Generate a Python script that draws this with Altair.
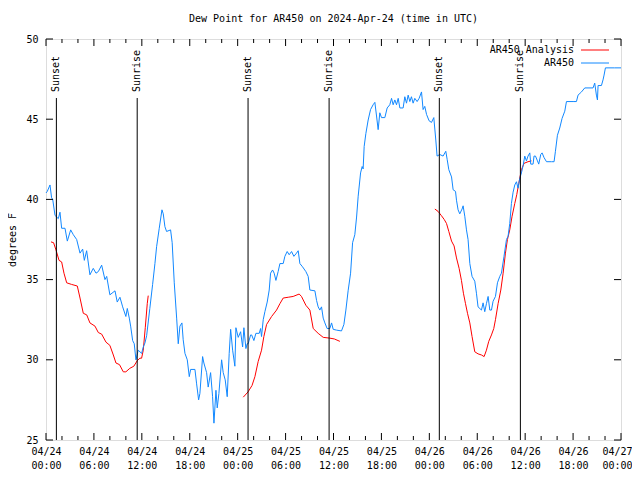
import altair as alt
import pandas as pd

FONT = "DejaVu Sans Mono"
RED = "#ff0000"
BLUE = "#1188ff"

# AR450 observed dew point (hours since 2024-04-24 00:00 UTC, deg F)
obs_t = [0.0, 0.16, 0.5, 0.7, 0.84, 1.13, 1.54, 1.75, 1.96, 2.38, 2.67, 3.09, 3.42, 3.84, 4.26, 4.59, 4.8, 5.09,
         5.5, 5.92, 6.26, 6.55, 6.97, 7.38, 7.6, 8.0, 8.64, 8.92, 9.26, 9.6, 10.0, 10.18, 10.43, 10.6, 10.85,
         11.05, 11.26, 11.55, 11.97, 12.18, 12.39, 12.6, 13.0, 13.35, 13.64, 13.85, 14.18, 14.52, 14.68, 14.89,
         15.1, 15.6, 15.8, 16.06, 16.36, 16.56, 16.77, 17.02, 17.18, 17.4, 17.69, 17.94, 18.11, 18.65, 18.86,
         19.11, 19.27, 19.61, 19.77, 20.11, 20.31, 20.61, 20.86, 21.03, 21.28, 21.44, 21.65, 21.99, 22.19, 22.44,
         22.69, 22.94, 23.12, 23.37, 23.65, 23.78, 24.07, 24.37, 24.62, 24.78, 25.03, 25.19, 25.32, 25.62, 25.75,
         26.03, 26.28, 26.7, 26.87, 26.99, 27.2, 27.41, 27.7, 27.95, 28.12, 28.37, 28.57, 28.79, 29.07, 29.29,
         29.7, 29.91, 30.2, 30.45, 30.75, 31.04, 31.37, 31.58, 31.79, 32.12, 32.54, 32.83, 33.04, 33.67, 33.88,
         34.08, 34.29, 34.5, 34.71, 34.92, 35.2, 35.54, 35.76, 35.96, 36.38, 37.0, 37.3, 37.55, 37.83, 38.14,
         38.39, 38.67, 38.89, 39.09, 39.39, 39.59, 39.71, 39.84, 40.05, 40.34, 40.64, 40.96, 41.18, 41.39, 41.59,
         41.8, 42.01, 42.43, 42.72, 43.05, 43.27, 43.47, 43.68, 43.89, 44.1, 44.31, 44.72, 44.93, 45.14, 45.35,
         45.56, 45.76, 45.97, 46.18, 46.47, 46.72, 47.02, 47.22, 47.43, 47.65, 47.97, 48.27, 48.56, 48.81, 48.97,
         49.31, 49.72, 50.06, 50.23, 50.44, 50.78, 50.98, 51.28, 51.4, 51.6, 51.81, 52.1, 52.23, 52.44, 52.65,
         52.85, 53.07, 53.35, 53.69, 53.9, 54.1, 54.53, 54.73, 54.94, 55.15, 55.36, 55.57, 55.78, 55.98, 56.28,
         56.53, 56.82, 57.03, 57.35, 57.66, 57.86, 58.07, 58.28, 58.49, 58.7, 58.91, 59.11, 59.32, 59.53, 59.74,
         59.95, 60.16, 60.36, 60.58, 60.7, 60.99, 61.11, 61.29, 61.54, 61.7, 61.95, 62.12, 62.37, 62.67, 63.29,
         63.62, 63.79, 64.04, 64.33, 64.62, 64.96, 65.17, 66.0, 66.42, 66.62, 67.05, 67.46, 68.5, 68.71, 68.92,
         69.05, 69.13, 69.55, 69.75, 69.88, 70.05, 71.2, 72.0]
obs_v = [40.4, 40.5, 40.9, 40.1, 40.0, 39.0, 38.8, 39.2, 38.2, 38.2, 37.4, 38.1, 37.8, 37.5, 36.65, 36.9, 36.2, 36.8,
         35.3, 35.7, 35.4, 35.5, 35.9, 35.0, 35.2, 34.05, 34.3, 33.6, 33.9, 33.3, 32.7, 33.2, 32.6, 32.1, 31.2,
         31.0, 30.0, 30.6, 30.4, 30.8, 31.05, 31.5, 33.2, 34.7, 36.0, 37.05, 38.2, 39.35, 39.1, 38.3,
         38.0, 38.1, 37.3, 34.8, 32.6, 31.0, 32.1, 32.3, 31.25, 30.4, 30.0, 28.95, 29.4, 29.4, 28.5,
         27.5, 27.9, 30.2, 29.8, 29.2, 28.3, 29.2, 27.7, 26.05, 28.1, 27.0, 27.9, 30.0, 29.2, 28.75,
         27.7, 30.4, 31.9, 30.6, 29.6, 32.0, 31.4, 31.75, 30.8, 32.0, 30.7, 31.0, 31.0, 31.55, 31.55,
         31.2, 31.65, 31.65, 31.95, 31.45, 32.5, 33.0, 33.6, 34.35, 35.4, 35.6, 35.4, 34.95, 35.5, 36.0,
         36.0, 36.45, 36.75, 36.55, 36.75, 36.45, 36.65, 36.8, 36.0, 35.8, 35.5, 35.2, 34.35, 34.3, 33.7,
         33.3, 33.1, 33.3, 32.6, 32.3, 31.95, 31.95, 32.3, 31.9, 31.85, 31.8, 32.2, 33.1, 34.3, 35.4,
         37.3, 37.8, 38.9, 40.2, 41.65, 42.05, 41.9, 43.3, 44.1, 44.95, 45.6, 45.9, 46.05, 45.2, 44.35,
         45.4, 45.1, 45.1, 45.7, 45.9, 46.3, 45.9, 46.2, 45.9, 46.3, 45.7, 45.7, 46.4, 46.0, 46.5,
         46.1, 46.4, 46.0, 46.3, 46.1, 46.3, 46.7, 45.6, 45.8, 45.3, 44.9, 44.8, 45.1, 43.7, 42.7,
         42.8, 42.7, 43.0, 42.5, 41.85, 41.4, 40.6, 40.5, 39.95, 39.35, 39.1, 39.4, 39.6, 38.95, 38.1,
         37.5, 36.0, 35.2, 34.9, 34.15, 33.3, 33.1, 33.55, 33.0, 33.5, 33.95, 33.1, 33.1, 33.65, 33.95,
         34.8, 35.2, 35.4, 36.45, 37.5, 37.7, 38.5, 39.75, 40.45, 40.9, 41.1, 40.7, 41.3, 41.65, 42.1,
         42.7, 42.4, 42.7, 42.9, 42.2, 42.2, 42.7, 42.7, 42.4, 42.2, 42.8, 42.9, 42.6, 42.35, 42.35,
         42.35, 43.0, 44.0, 44.45, 45.05, 45.5, 46.1, 46.1, 46.1, 46.5, 46.7, 46.95, 46.95, 47.25, 46.5,
         46.2, 47.1, 47.1, 47.45, 47.75, 48.2, 48.2, 48.2]

# AR450 Analysis, three night-time segments
ana1_t = [0.63, 0.95, 1.25, 1.63, 1.96, 2.25, 2.59, 3.2, 3.92, 4.26, 4.67, 5.1, 5.5, 6.13, 6.55, 6.97, 7.51, 8.0,
          8.43, 8.76, 9.2, 9.68, 10.0, 10.5, 11.0, 11.43, 11.76, 11.97, 12.18, 12.43, 12.68, 12.8]
ana1_v = [37.35, 37.3, 36.85, 36.2, 36.1, 35.4, 34.8, 34.7, 34.6, 33.85, 32.9, 32.8, 32.3, 32.1, 31.7, 31.6, 31.1,
          30.9, 30.3, 29.8, 29.7, 29.25, 29.25, 29.47, 29.6, 29.95, 30.1, 30.1, 30.6, 32.0, 33.5, 34.0]
ana2_t = [24.7, 25.3, 25.8, 26.16, 26.57, 26.99, 27.28, 27.62, 28.25, 28.87, 29.29, 29.7, 30.33, 30.95, 31.7,
          31.99, 32.54, 33.04, 33.46, 34.08, 34.71, 35.54, 36.1, 36.8]
ana2_v = [27.67, 28.0, 28.4, 28.95, 29.9, 30.6, 31.45, 32.2, 32.7, 33.1, 33.5, 33.85, 33.9, 33.95, 34.1, 33.95,
          33.4, 33.1, 31.95, 31.65, 31.4, 31.35, 31.3, 31.15]
ana3_t = [48.69, 49.1, 49.52, 49.86, 50.15, 50.44, 50.78, 51.1, 51.4, 51.73, 52.02, 52.27, 52.53, 52.78, 53.07,
          53.35, 53.69, 54.1, 54.53, 54.86, 55.15, 55.44, 55.78, 56.07, 56.28, 56.61, 56.95, 57.24, 57.53, 57.78,
          58.07, 58.36, 58.7, 58.95, 59.2, 59.53, 59.86, 60.36, 60.79]
ana3_v = [39.4, 39.25, 38.98, 38.75, 38.5, 38.0, 37.4, 37.1, 36.35, 35.7, 34.95, 34.15, 33.5, 32.9, 32.3, 31.45,
          30.5, 30.37, 30.3, 30.2, 30.6, 31.15, 31.55, 31.95, 32.5, 33.5, 34.35, 35.4, 36.65, 37.5, 38.1, 38.95,
          39.75, 40.3, 41.0, 41.85, 42.25, 42.35, 42.4]

sun_t = [1.3, 11.42, 25.3, 35.45, 49.25, 59.4]
sun_label = ["Sunset", "Sunrise", "Sunset", "Sunrise", "Sunset", "Sunrise"]

legend_labels = ["AR450 Analysis", "AR450"]
legend_colors = [RED, BLUE]

x_major = list(range(0, 73, 6))
x_minor = [h for h in range(0, 73, 2) if h % 6 != 0]
y_major = [25, 30, 35, 40, 45, 50]

W, H = 575, 401

obs_df = pd.DataFrame({"t": obs_t, "v": obs_v})
ana_df = pd.concat([
    pd.DataFrame({"t": ana1_t, "v": ana1_v, "seg": 1}),
    pd.DataFrame({"t": ana2_t, "v": ana2_v, "seg": 2}),
    pd.DataFrame({"t": ana3_t, "v": ana3_v, "seg": 3}),
])
sun_df = pd.DataFrame({"t": sun_t, "label": sun_label})
xmaj_df = pd.DataFrame({"t": x_major})
xmin_df = pd.DataFrame({"t": x_minor})
ymaj_df = pd.DataFrame({"v": y_major})
one_df = pd.DataFrame({"k": [0]})

x_axis = alt.Axis(
    values=x_major, ticks=False, domain=False, grid=False, title=None,
    labelExpr="['04/' + (24 + floor(datum.value / 24)), (datum.value % 24 < 10 ? '0' : '') + (datum.value % 24) + ':00']",
    labelFont=FONT, labelFontSize=10, labelColor="black", labelPadding=6, labelLineHeight=14,
    labelAlign="center", labelBaseline="top", labelOverlap=False, labelFlush=False,
    labelOffset={"condition": {"test": "datum.value == 72", "value": -4}, "value": 0},
)
y_axis = alt.Axis(
    values=y_major, ticks=False, domain=False, grid=False, title="degrees F",
    labelFont=FONT, labelFontSize=10, labelColor="black", labelPadding=8,
    titleFont=FONT, titleFontSize=10, titleFontWeight="normal", titleColor="black", titlePadding=8,
)
xs = alt.Scale(domain=[0, 72], nice=False, zero=False)
ys = alt.Scale(domain=[25, 50], nice=False, zero=False)


def X():
    return alt.X("t:Q", scale=xs, axis=x_axis)


def Y():
    return alt.Y("v:Q", scale=ys, axis=y_axis)


obs_line = alt.Chart(obs_df).mark_line(color=BLUE, strokeWidth=1).encode(x=X(), y=Y())
ana_line = alt.Chart(ana_df).mark_line(color=RED, strokeWidth=1).encode(x=X(), y=Y(), detail="seg:N")

sun_rule = alt.Chart(sun_df).mark_rule(color="black", strokeWidth=1).encode(
    x=X(), y=alt.value(59), y2=alt.value(H))
sun_text = alt.Chart(sun_df).mark_text(
    font=FONT, fontSize=10, angle=270, align="left", baseline="middle", color="black"
).encode(x=X(), y=alt.value(53), text="label:N")

xmaj_bot = alt.Chart(xmaj_df).mark_rule(color="black").encode(x=X(), y=alt.value(H), y2=alt.value(H - 7))
xmaj_top = alt.Chart(xmaj_df).mark_rule(color="black").encode(x=X(), y=alt.value(0), y2=alt.value(7))
xmin_bot = alt.Chart(xmin_df).mark_rule(color="black").encode(x=X(), y=alt.value(H), y2=alt.value(H - 4))
xmin_top = alt.Chart(xmin_df).mark_rule(color="black").encode(x=X(), y=alt.value(0), y2=alt.value(4))
y_left = alt.Chart(ymaj_df).mark_rule(color="black").encode(y=Y(), x=alt.value(0), x2=alt.value(7))
y_right = alt.Chart(ymaj_df).mark_rule(color="black").encode(y=Y(), x=alt.value(W - 7), x2=alt.value(W))

legend_layers = []
for i, (lab, col) in enumerate(zip(legend_labels, legend_colors)):
    yy = 11 + 13 * i
    legend_layers.append(
        alt.Chart(one_df).mark_text(font=FONT, fontSize=10, align="right", baseline="middle",
                                    color="black", text=lab).encode(x=alt.value(528), y=alt.value(yy)))
    legend_layers.append(
        alt.Chart(one_df).mark_rule(color=col, strokeWidth=1).encode(
            x=alt.value(535), x2=alt.value(563), y=alt.value(yy)))

chart = alt.layer(
    ana_line, obs_line, sun_rule, sun_text,
    xmaj_bot, xmaj_top, xmin_bot, xmin_top, y_left, y_right,
    *legend_layers,
).properties(
    width=W, height=H,
    title=alt.TitleParams("Dew Point for AR450 on 2024-Apr-24 (time in UTC)", font=FONT, fontSize=10,
                          fontWeight="normal", color="black", anchor="middle", offset=10),
    autosize=alt.AutoSizeParams(type="none"),
    padding={"left": 38, "top": 31, "right": 11, "bottom": 30},
).configure_view(stroke="black", strokeWidth=1).configure(background="white")

chart.save("out.html", embed_options={"renderer": "svg", "actions": False})
